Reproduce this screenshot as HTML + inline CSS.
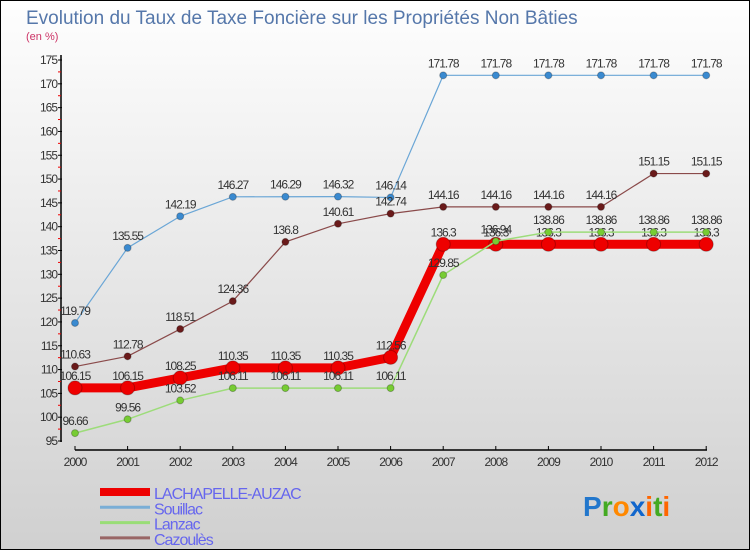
<!DOCTYPE html>
<html><head><meta charset="utf-8"><style>
body{margin:0}
#wrap{width:750px;height:550px;position:relative;box-sizing:border-box;border:1px solid #000;background:linear-gradient(#fefefe,#d0d0d0);font-family:"Liberation Sans",sans-serif;overflow:hidden}
</style></head><body>
<div id="wrap">
<svg id="chart" width="750" height="550" style="position:absolute;left:-1px;top:-1px"></svg>
</div>
<script>
const years=["2000","2001","2002","2003","2004","2005","2006","2007","2008","2009","2010","2011","2012"];
const yTicks=[95,100,105,110,115,120,125,130,135,140,145,150,155,160,165,170,175];
const lachapelle=[106.15,106.15,108.25,110.35,110.35,110.35,112.56,136.3,136.3,136.3,136.3,136.3,136.3];
const souillac=[119.79,135.55,142.19,146.27,146.29,146.32,146.14,171.78,171.78,171.78,171.78,171.78,171.78];
const lanzac=[96.66,99.56,103.52,106.11,106.11,106.11,106.11,129.85,136.94,138.86,138.86,138.86,138.86];
const cazoules=[110.63,112.78,118.51,124.36,136.8,140.61,142.74,144.16,144.16,144.16,144.16,151.15,151.15];
const names=["LACHAPELLE-AUZAC","Souillac","Lanzac","Cazoulès"];
const NS="http://www.w3.org/2000/svg";
const svg=document.getElementById('chart');
function mk(t,a,p){const e=document.createElementNS(NS,t);for(const k in a)e.setAttribute(k,a[k]);(p||svg).appendChild(e);return e;}
const x=i=>75+i*52.6;
const y=v=>441-(v-95)*4.7625;
let t=mk('text',{x:26,y:24,'font-size':19,fill:'#5577aa'});t.textContent="Evolution du Taux de Taxe Foncière sur les Propriétés Non Bâties";

t=mk('text',{x:26,y:40,'font-size':11,fill:'#cc3366'});t.textContent="(en %)";

let ax=mk('line',{x1:61,y1:55,x2:61,y2:442,stroke:'#000','stroke-width':1.5});

yTicks.forEach((v,i)=>{mk('line',{x1:58,y1:y(v),x2:62,y2:y(v),stroke:'#000'});
 if(i<yTicks.length-1)mk('line',{x1:58,y1:y(v+2.5),x2:61,y2:y(v+2.5),stroke:'#e00'});
 const l=mk('text',{x:57,y:y(v)+4,'font-size':12,'text-anchor':'end',fill:'#333','letter-spacing':'-1'});l.textContent=v;
 });
ax=mk('line',{x1:75,y1:450,x2:707,y2:450,stroke:'#000','stroke-width':1.5});

years.forEach((yr,i)=>{mk('line',{x1:x(i),y1:446,x2:x(i),y2:450,stroke:'#000'});
 const l=mk('text',{x:x(i),y:466,'font-size':12,'text-anchor':'middle',fill:'#333','letter-spacing':'-1'});l.textContent=yr;
 });
function series(data,color,w,r,dot,nm){
 const g=mk('g',{});
 mk('polyline',{points:data.map((v,i)=>x(i)+','+y(v)).join(' '),fill:'none',stroke:color,'stroke-width':w},g);
 data.forEach((v,i)=>{const c=mk('circle',{cx:x(i),cy:y(v),r:r,fill:dot,stroke:'rgba(0,0,0,0.25)'},g);
  
  const l=mk('text',{x:x(i),y:y(v)-8,'font-size':12,'text-anchor':'middle',fill:'#333','letter-spacing':'-1'},g);l.textContent=v;});
}
series(souillac,'#6aa6d6',1.2,3.5,'#3a8ad0','souillac');
series(cazoules,'#8a4a4a',1.2,3.5,'#6a1a1a','cazoules');
series(lachapelle,'#ee0000',9,7,'#ee0000','lachapelle');
series(lanzac,'#9ddc7a',1.5,3.5,'#77cc33','lanzac');
const lc=['#ee0000','#7aaed6','#99dd77','#996666'],lw=[8,3,3,3];
names.forEach((n,i)=>{const g=mk('g',{});
 const yy=492+i*15.3;mk('line',{x1:100,y1:yy,x2:150,y2:yy,stroke:lc[i],'stroke-width':lw[i]},g);
 const l=mk('text',{x:154,y:yy+7,'font-size':16,fill:'#6666ee','letter-spacing':'-1'},g);l.textContent=n;});
const lg=mk('text',{x:583,y:516,'font-size':28,'font-weight':'bold'});
[['P','#2277cc'],['r','#44aa22'],['o','#ff8800'],['x','#1166cc'],['i','#ff6600'],['t','#44aa22'],['i','#ff6600']].forEach(([c,f])=>{const s=mk('tspan',{fill:f},lg);s.textContent=c;});
</script>
</body></html>
